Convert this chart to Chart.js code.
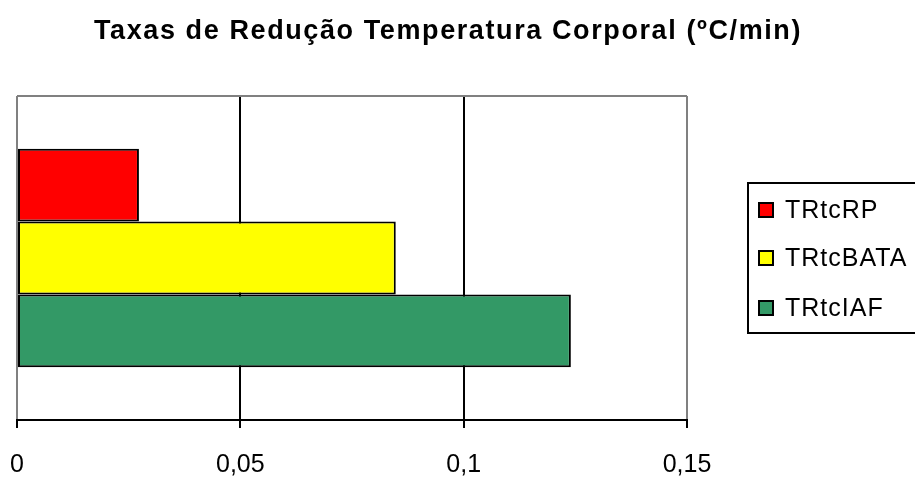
<!DOCTYPE html>
<html>
<head>
<meta charset="utf-8">
<title>Taxas de Redução Temperatura Corporal</title>
<script src="https://cdn.jsdelivr.net/npm/chart.js@4.4.1/dist/chart.umd.min.js"></script>
<style>
  html, body { margin: 0; padding: 0; background: #ffffff; }
  #wrap { width: 915px; height: 477px; position: relative; }
</style>
</head>
<body>
<div id="wrap"><canvas id="chart" width="915" height="477"></canvas></div>
<script>
// Chart data
const chartTitle = 'Taxas de Redução Temperatura Corporal (ºC/min)';
const categories = [''];
const seriesNames = ['TRtcRP', 'TRtcBATA', 'TRtcIAF'];
const seriesColors = ['#FF0000', '#FFFF00', '#339966'];
const valuesRP = [0.0273];
const valuesBATA = [0.0848];
const valuesIAF = [0.124];
const xTickLabels = ['0', '0,05', '0,1', '0,15'];

const FONT = '"Liberation Sans", Arial, sans-serif';
const seriesValues = [valuesRP, valuesBATA, valuesIAF];

const datasets = seriesNames.map((name, i) => ({
  label: name,
  data: seriesValues[i],
  backgroundColor: seriesColors[i],
  borderColor: '#000000',
  borderWidth: 2,
  borderSkipped: false,
  categoryPercentage: 0.675,
  barPercentage: 1.0
}));

// Background, plot frame, title and boxed legend
const framePlugin = {
  id: 'frame',
  beforeDraw(chart) {
    const ctx = chart.ctx;
    ctx.save();
    ctx.fillStyle = '#ffffff';
    ctx.fillRect(0, 0, chart.width, chart.height);
    ctx.restore();
  },
  beforeDatasetsDraw(chart) {
    const { ctx, chartArea } = chart;
    ctx.save();
    ctx.strokeStyle = '#808080';
    ctx.lineWidth = 2;
    ctx.beginPath();
    ctx.moveTo(chartArea.left, chartArea.top);
    ctx.lineTo(chartArea.right, chartArea.top);
    ctx.stroke();
    ctx.restore();
  },
  afterDraw(chart) {
    const ctx = chart.ctx;
    ctx.save();
    // title
    ctx.fillStyle = '#000000';
    ctx.font = 'bold 27px ' + FONT;
    ctx.letterSpacing = '1.6px';
    ctx.textAlign = 'center';
    ctx.textBaseline = 'alphabetic';
    ctx.fillText(chartTitle, 448, 39);

    // legend box
    ctx.strokeStyle = '#000000';
    ctx.lineWidth = 2;
    ctx.strokeRect(748, 183, 200, 150);
    const rowY = [210, 258, 308];
    ctx.font = '25px ' + FONT;
    ctx.letterSpacing = '1px';
    ctx.textAlign = 'left';
    ctx.textBaseline = 'middle';
    chart.data.datasets.forEach((ds, i) => {
      ctx.fillStyle = ds.backgroundColor;
      ctx.fillRect(759, rowY[i] - 7, 14, 14);
      ctx.lineWidth = 2;
      ctx.strokeRect(759, rowY[i] - 7, 14, 14);
      ctx.fillStyle = '#000000';
      ctx.fillText(ds.label, 785, rowY[i] + 1);
    });
    ctx.restore();
  }
};

new Chart(document.getElementById('chart'), {
  type: 'bar',
  data: { labels: categories, datasets: datasets },
  options: {
    indexAxis: 'y',
    responsive: false,
    animation: false,
    layout: { padding: { left: 17, right: 228, top: 96, bottom: 0 } },
    scales: {
      x: {
        min: 0,
        max: 0.15,
        afterFit(scale) {
          scale.paddingLeft = 0;
          scale.paddingRight = 0;
          scale.height = 57;
        },
        ticks: {
          stepSize: 0.05,
          color: '#000000',
          padding: 22,
          maxRotation: 0,
          font: { family: FONT, size: 25 },
          callback: (v, i) => xTickLabels[i]
        },
        grid: {
          color: (c) => (c.index === 0 || c.index === xTickLabels.length - 1) ? '#808080' : '#000000',
          tickColor: '#000000',
          lineWidth: 2,
          tickLength: 8,
          drawOnChartArea: true
        },
        border: { color: '#000000', width: 2 }
      },
      y: { display: false }
    },
    plugins: {
      legend: { display: false },
      title: { display: false },
      tooltip: { enabled: false }
    }
  },
  plugins: [framePlugin]
});
</script>
</body>
</html>
